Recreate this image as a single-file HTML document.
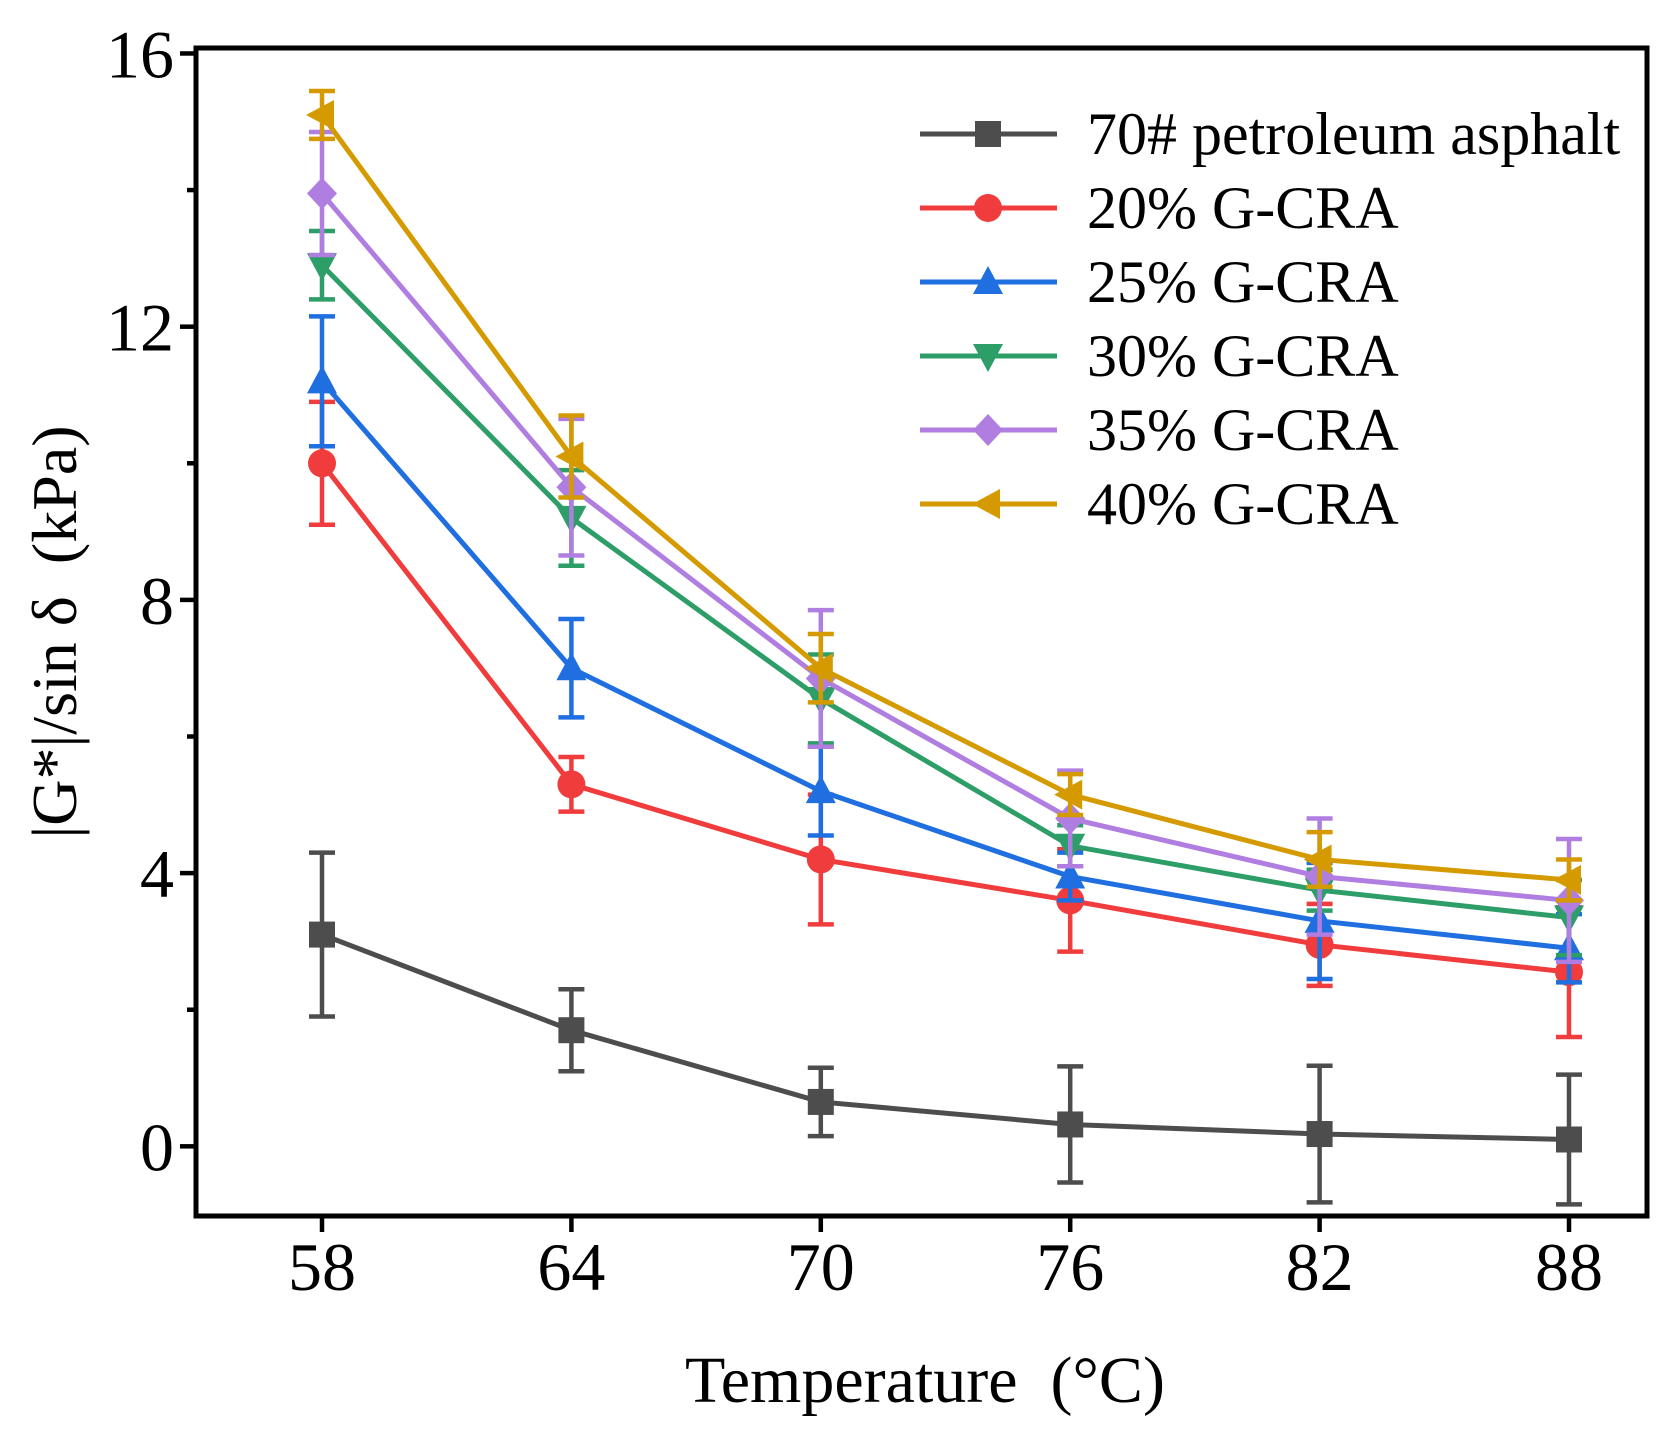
<!DOCTYPE html>
<html><head><meta charset="utf-8"><style>
html,body{margin:0;padding:0;background:#fff}
svg{display:block;font-family:"Liberation Serif",serif}
</style></head><body>
<svg id="chart" width="1674" height="1442" viewBox="0 0 1674 1442" xmlns="http://www.w3.org/2000/svg">
<g id="plot"></g>
</svg>
<script>
const categories=[58,64,70,76,82,88];
const yTicks=[0,4,8,12,16];
const yMinor=[2,6,10,14];
const seriesNames=["70# petroleum asphalt","20% G-CRA","25% G-CRA","30% G-CRA","35% G-CRA","40% G-CRA"];
const vBase=[3.1,1.7,0.65,0.32,0.18,0.1];
const eBase=[1.2,0.6,0.5,0.85,1.0,0.95];
const v20=[10.0,5.3,4.2,3.6,2.95,2.55];
const e20=[0.9,0.4,0.95,0.75,0.6,0.95];
const v25=[11.2,7.0,5.2,3.95,3.3,2.9];
const e25=[0.95,0.72,0.65,0.35,0.85,0.5];
const v30=[12.9,9.2,6.55,4.4,3.75,3.35];
const e30=[0.5,0.7,0.65,0.3,0.3,0.55];
const v35=[13.95,9.65,6.85,4.8,3.95,3.6];
const e35=[0.9,1.0,1.0,0.7,0.85,0.9];
const v40=[15.1,10.1,7.0,5.15,4.2,3.9];
const e40=[0.35,0.6,0.5,0.3,0.4,0.3];

const L=196,R=1647,T=48,B=1216;
const yMin=-1.02,yMax=16.08;
const X=v=>322+(v-58)*(1569-322)/30;
const Y=v=>B-(v-yMin)*(B-T)/(yMax-yMin);
const NS="http://www.w3.org/2000/svg";
const g=document.getElementById('plot');
function mk(tag,attrs,parent){const e=document.createElementNS(NS,tag);for(const k in attrs)e.setAttribute(k,attrs[k]);(parent||g).appendChild(e);return e;}

const series=[
 {v:vBase,e:eBase,c:"#4d4d4d",m:"square"},
 {v:v20,e:e20,c:"#f03c3c",m:"circle"},
 {v:v25,e:e25,c:"#1f6fe0",m:"up"},
 {v:v30,e:e30,c:"#2e9e68",m:"down"},
 {v:v35,e:e35,c:"#b07ee0",m:"diamond"},
 {v:v40,e:e40,c:"#d49a00",m:"left"}];

function marker(type,x,y,c,parent){
 const s=13;let el;
 if(type==="square")el=mk('rect',{x:x-s,y:y-s,width:2*s,height:2*s,fill:c},parent);
 else if(type==="circle")el=mk('circle',{cx:x,cy:y,r:s+1,fill:c},parent);
 else{let p;
  if(type==="up")p=[[x,y-s-3],[x+s+2,y+s-1],[x-s-2,y+s-1]];
  if(type==="down")p=[[x,y+s+3],[x+s+2,y-s+1],[x-s-2,y-s+1]];
  if(type==="diamond")p=[[x,y-s-3],[x+s+2,y],[x,y+s+3],[x-s-2,y]];
  if(type==="left")p=[[x-s-3,y],[x+s-1,y-s-2],[x+s-1,y+s+2]];
  el=mk('polygon',{points:p.map(q=>q.join(',')).join(' '),fill:c},parent);}
 return el;
}

const clip=mk('clipPath',{id:'pc'});mk('rect',{x:L,y:T,width:R-L,height:B-T},clip);

series.forEach((s,i)=>{
 const sg=mk('g',{'clip-path':'url(#pc)'});
 
 
 s.v.forEach((v,j)=>{
  const x=X(categories[j]);
  const eb=mk('g',{stroke:s.c,'stroke-width':4.5,fill:'none'},sg);
  
  
  mk('line',{x1:x,x2:x,y1:Y(v-s.e[j]),y2:Y(v+s.e[j])},eb);
  mk('line',{x1:x-13,x2:x+13,y1:Y(v-s.e[j]),y2:Y(v-s.e[j])},eb);
  mk('line',{x1:x-13,x2:x+13,y1:Y(v+s.e[j]),y2:Y(v+s.e[j])},eb);
 });
 const ln=mk('polyline',{points:s.v.map((v,j)=>X(categories[j])+','+Y(v)).join(' '),fill:'none',stroke:s.c,'stroke-width':5},sg);
 
 
 s.v.forEach((v,j)=>{
  const m=marker(s.m,X(categories[j]),Y(v),s.c,sg);
  
  
 });
});

const fr=mk('rect',{x:L,y:T,width:R-L,height:B-T,fill:'none',stroke:'#000','stroke-width':5});



yTicks.forEach(t=>{
 mk('line',{x1:L-16,x2:L,y1:Y(t),y2:Y(t),stroke:'#000','stroke-width':4.5});
 const tx=mk('text',{x:L-22,y:Y(t)+24,'text-anchor':'end','font-size':68});
 tx.textContent=t;
 
 
});
yMinor.forEach(t=>mk('line',{x1:L-9,x2:L,y1:Y(t),y2:Y(t),stroke:'#000','stroke-width':4.5}));
categories.forEach(c=>{
 mk('line',{x1:X(c),x2:X(c),y1:B,y2:B+16,stroke:'#000','stroke-width':4.5});
 const tx=mk('text',{x:X(c),y:B+74,'text-anchor':'middle','font-size':68});
 tx.textContent=c;
 
 
});

const xt=mk('text',{x:925,y:1402,'text-anchor':'middle','font-size':66});
xt.textContent='Temperature\u2002(\u00B0C)';


const yt=mk('text',{x:0,y:0,'text-anchor':'middle','font-size':64,transform:'translate(76,632) rotate(-90)'});
yt.textContent='|G*|/sin \u03B4\u2002(kPa)';



const lg=mk('g',{});


series.forEach((s,i)=>{
 const y=134+i*74;
 const en=mk('g',{},lg);
 
 
 mk('line',{x1:920,x2:1057,y1:y,y2:y,stroke:s.c,'stroke-width':5},en);
 marker(s.m,988,y,s.c,en);
 const t=mk('text',{x:1087,y:y+20,'font-size':60},en);
 t.textContent=seriesNames[i];
});
</script>
</body></html>
